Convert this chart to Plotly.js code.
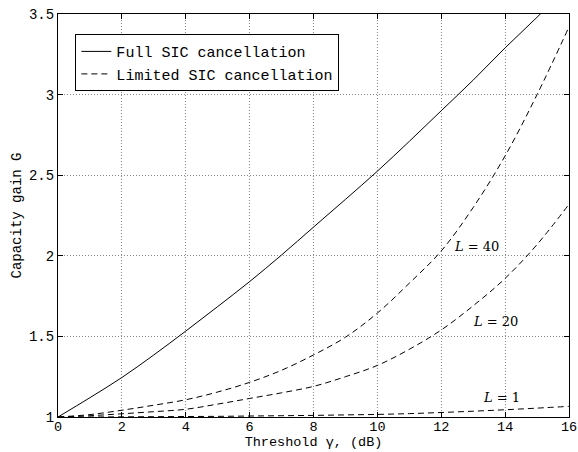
<!DOCTYPE html>
<html>
<head>
<meta charset="utf-8">
<script src="https://cdn.plot.ly/plotly-3.0.1.min.js"></script>
<style>html,body{margin:0;padding:0;background:#fff;}</style>
</head>
<body>
<div id="chart" style="width:578px;height:452px;"></div>
<script>
// Threshold gamma (dB)
const gamma = [0,1,2,3,4,5,6,7,8,9,10,11,12,13,14,15,16];
// Full SIC cancellation
const fullSIC = [1.0,1.12,1.245,1.385,1.533,1.685,1.84,2.005,2.178,2.35,2.525,2.71,2.9,3.09,3.29,3.48,3.68];
// Limited SIC cancellation, L = 40
const limL40 = [1.0,1.015,1.042,1.073,1.107,1.155,1.215,1.29,1.385,1.495,1.645,1.83,2.03,2.3,2.62,3.0,3.42];
// Limited SIC cancellation, L = 20
const limL20 = [1.0,1.008,1.02,1.033,1.048,1.08,1.115,1.15,1.19,1.25,1.32,1.42,1.54,1.69,1.86,2.07,2.32];
// Limited SIC cancellation, L = 1
const limL1 = [1.0,1.0,1.001,1.002,1.003,1.004,1.006,1.008,1.01,1.013,1.016,1.021,1.028,1.036,1.045,1.055,1.066];

const xTicks = [0,2,4,6,8,10,12,14,16];
const yTicks = [1,1.5,2,2.5,3,3.5];
const yTickText = ['1','1.5','2','2.5','3','3.5'];
const curveLabels = ['<i>L</i> = 40','<i>L</i> = 20','<i>L</i> = 1'];
const labelX = [13.1,13.7,13.9];
const labelY = [2.06,1.59,1.12];

const dashStyle = '6px,4px';
const traces = [
  {x: gamma, y: fullSIC, type:'scatter', mode:'lines', name:'Full SIC cancellation',
   line:{color:'#000', width:1, shape:'spline'}},
  {x: gamma, y: limL40, type:'scatter', mode:'lines', name:'Limited SIC cancellation',
   line:{color:'#000', width:1, dash:dashStyle, shape:'spline'}},
  {x: gamma, y: limL20, type:'scatter', mode:'lines', showlegend:false,
   line:{color:'#000', width:1, dash:dashStyle, shape:'spline'}},
  {x: gamma, y: limL1, type:'scatter', mode:'lines', showlegend:false,
   line:{color:'#000', width:1, dash:dashStyle, shape:'spline'}}
];

const mono = 'Liberation Mono, Courier New, monospace';
const axisCommon = {
  showline:true, mirror:'ticks', linecolor:'#000', linewidth:1,
  ticks:'inside', ticklen:5, tickcolor:'#000',
  showgrid:true, gridcolor:'#888', griddash:'1px,2px', gridwidth:1,
  zeroline:false, automargin:false, ticklabeloverflow:'allow',
  tickfont:{family:mono, size:14, color:'#000'}
};
const layout = {
  width:578, height:452,
  margin:{l:58, r:9, t:14, b:35},
  paper_bgcolor:'#fff', plot_bgcolor:'#fff',
  showlegend:true,
  legend:{x:0.034, y:0.95, xanchor:'left', yanchor:'top',
    bgcolor:'#fff', bordercolor:'#000', borderwidth:1,
    font:{family:mono, size:15, color:'#000'}, tracegroupgap:0,
    itemwidth:30},
  xaxis: Object.assign({}, axisCommon, {
    range:[0,16], tickvals:xTicks, ticktext:xTicks.map(String), ticklabelstandoff:-3,
    tickfont:{family:mono, size:13.5, color:'#000'},
    title:{text:'Threshold γ, (dB)', font:{family:mono, size:13.5, color:'#000'}, standoff:2}
  }),
  yaxis: Object.assign({}, axisCommon, {
    range:[1,3.5], tickvals:yTicks, ticktext:yTickText,
    title:{text:'Capacity gain G', font:{family:mono, size:14, color:'#000'}, standoff:4}
  }),
  annotations: curveLabels.map((t,i)=>({
    x:labelX[i], y:labelY[i], xref:'x', yref:'y', text:t, showarrow:false,
    font:{family:'DejaVu Serif, Liberation Serif, serif', size:13, color:'#000'}
  }))
};
Plotly.newPlot('chart', traces, layout, {displayModeBar:false, staticPlot:true});
</script>
</body>
</html>
